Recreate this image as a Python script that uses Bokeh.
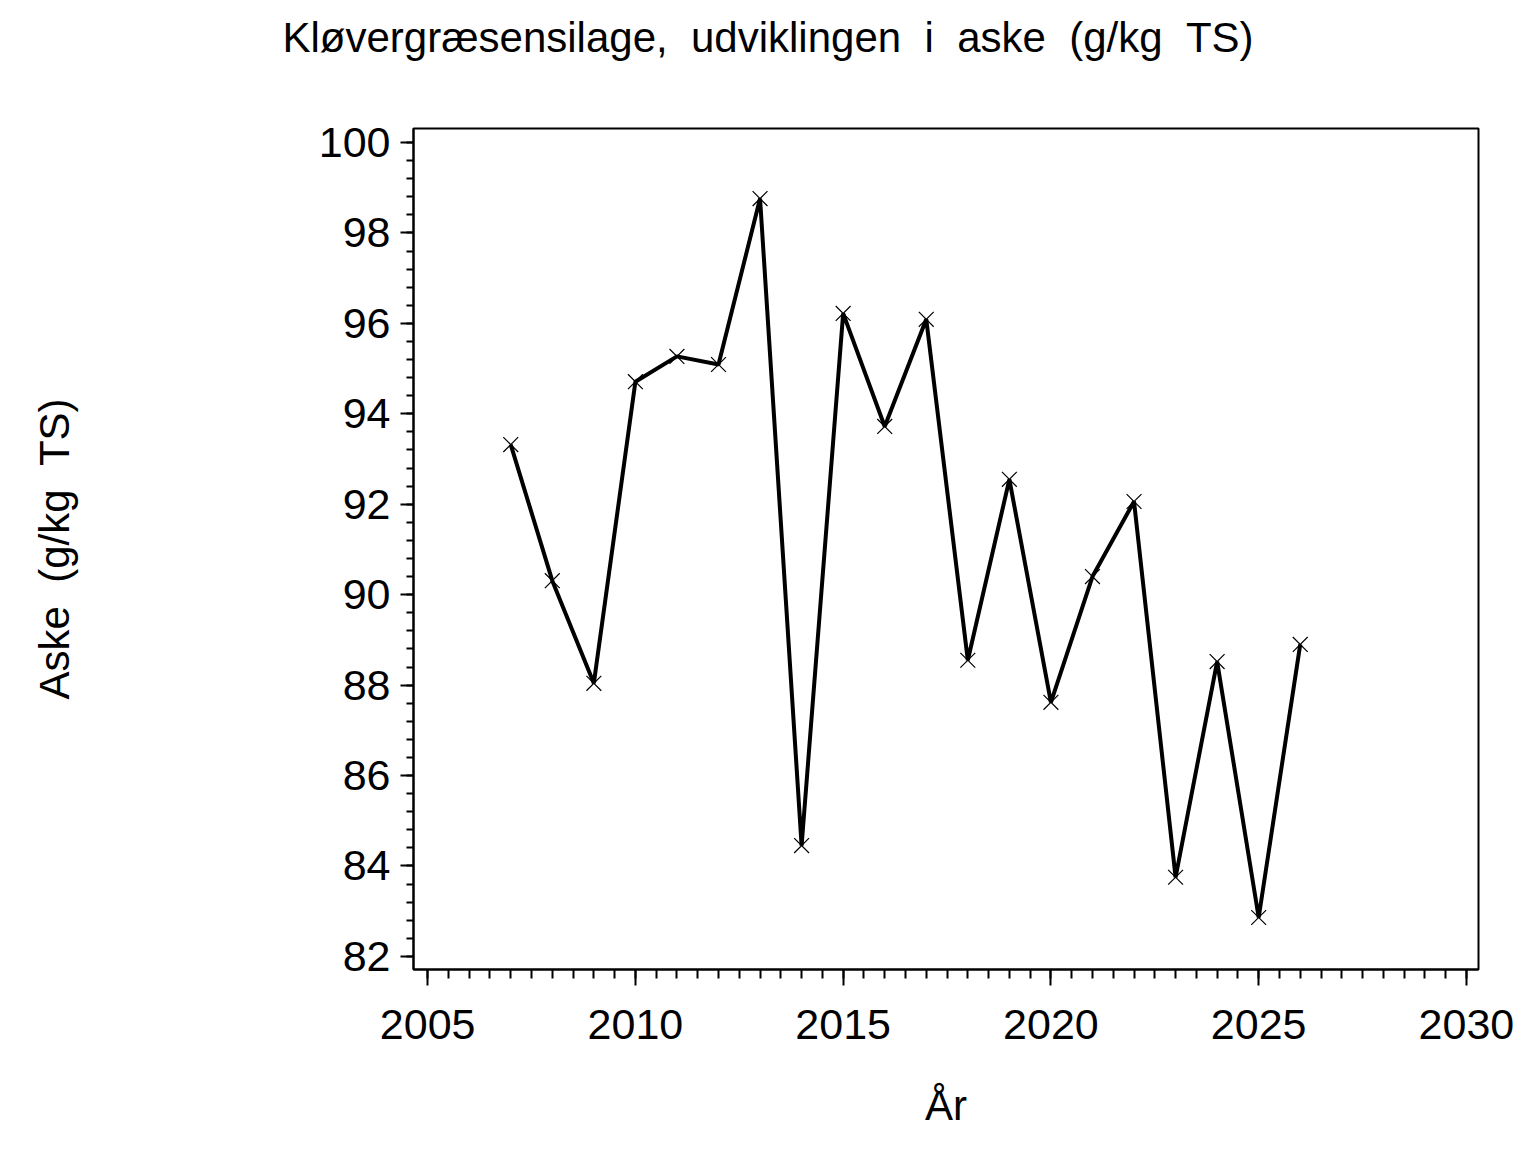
from bokeh.plotting import figure
from bokeh.models import SingleIntervalTicker, Range1d, Title
from bokeh.embed import file_html
from bokeh.resources import INLINE

years = [2007, 2008, 2009, 2010, 2011, 2012, 2013, 2014, 2015, 2016,
         2017, 2018, 2019, 2020, 2021, 2022, 2023, 2024, 2025, 2026]
aske = [93.32, 90.31, 88.04, 94.71, 95.27, 95.09, 98.76, 84.45, 96.22, 93.72,
        96.09, 88.55, 92.55, 87.62, 90.40, 92.06, 83.75, 88.52, 82.86, 88.90]

SP = "\u00a0\u00a0"
title_text = SP.join(["Kløvergræsensilage,", "udviklingen", "i", "aske", "(g/kg", "TS)"])
x_label = "År"
y_label = SP.join(["Aske", "(g/kg", "TS)"])
FONT = "Liberation Sans"

p = figure(width=1528, height=1144, output_backend="svg", toolbar_location=None,
           x_range=Range1d(2004.66, 2030.29), y_range=Range1d(81.71, 100.31),
           frame_width=1065, frame_height=841,
           min_border_left=413, min_border_top=128, min_border_right=50,
           min_border_bottom=175)
p.title = None

# spacer between frame and title (innermost), then the title itself
spacer = Title(text="\u00a0", text_font=FONT, text_font_size="45px", standoff=10)
p.add_layout(spacer, "above")
t = Title(text=title_text, align="left", offset=-131, text_font=FONT,
          text_font_size="42px", text_font_style="normal", text_color="black")
p.add_layout(t, "above")

p.xgrid.visible = False
p.ygrid.visible = False
p.outline_line_color = "black"
p.outline_line_width = 2

p.xaxis.ticker = SingleIntervalTicker(interval=5, num_minor_ticks=10)
p.yaxis.ticker = SingleIntervalTicker(interval=2, num_minor_ticks=5)

for ax in (p.xaxis[0], p.yaxis[0]):
    ax.axis_line_color = "black"
    ax.axis_line_width = 2
    ax.major_tick_line_color = "black"
    ax.minor_tick_line_color = "black"
    ax.major_tick_line_width = 2
    ax.minor_tick_line_width = 2
    ax.major_tick_in = 0
    ax.minor_tick_in = 0
    ax.major_label_text_font = FONT
    ax.major_label_text_font_size = "43px"
    ax.major_label_text_color = "black"
    ax.axis_label_text_font = FONT
    ax.axis_label_text_font_size = "42px"
    ax.axis_label_text_font_style = "normal"
    ax.axis_label_text_color = "black"

p.xaxis.major_tick_out = 16
p.xaxis.minor_tick_out = 9
p.yaxis.major_tick_out = 13
p.yaxis.minor_tick_out = 7
p.xaxis.major_label_standoff = 24
p.yaxis.major_label_standoff = 10
p.xaxis.axis_label = x_label
p.yaxis.axis_label = y_label
p.xaxis.axis_label_standoff = 40
p.yaxis.axis_label_standoff = 238

p.line(years, aske, line_color="black", line_width=4)
p.scatter(years, aske, marker="x", size=21, line_color="black", line_width=1.2)

open("out.html", "w").write(file_html(p, INLINE))
